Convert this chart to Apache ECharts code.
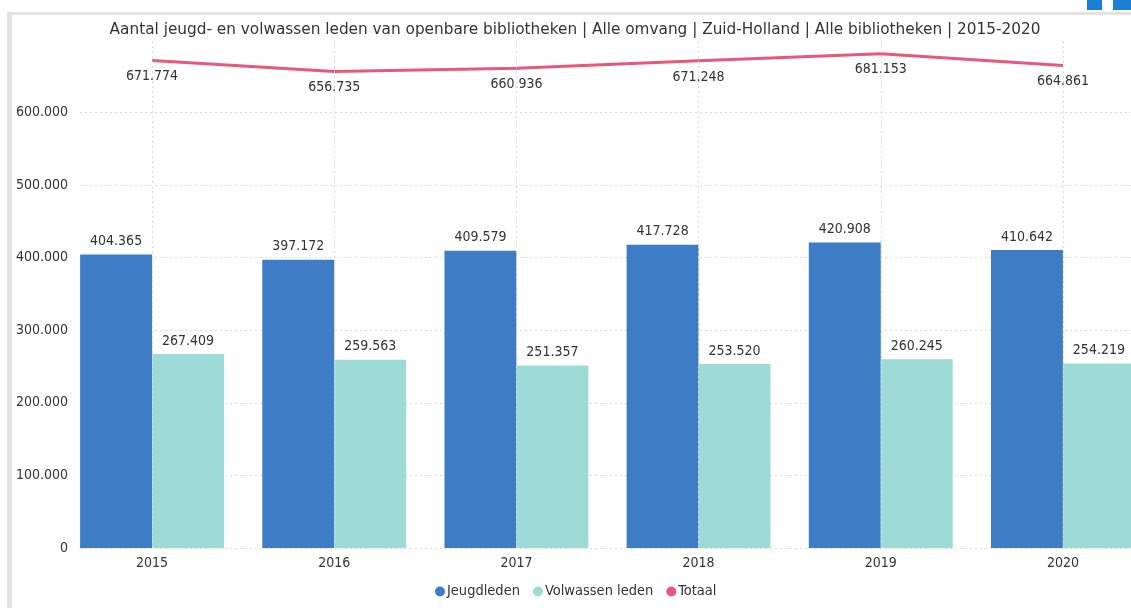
<!DOCTYPE html>
<html><head><meta charset="utf-8">
<script src="https://cdn.jsdelivr.net/npm/echarts@6/dist/echarts.min.js"></script>
<style>html,body{margin:0;padding:0;background:#fff;overflow:hidden;width:1131px;height:608px}#c{width:1160px;height:608px}</style>
</head><body><div id="c"></div>
<script>
var categories = ['2015','2016','2017','2018','2019','2020'];
var jeugdleden = [404365, 397172, 409579, 417728, 420908, 410642];
var volwassen = [267409, 259563, 251357, 253520, 260245, 254219];
var totaal = [671774, 656735, 660936, 671248, 681153, 664861];
var yTicks = [0, 100000, 200000, 300000, 400000, 500000, 600000];

var FONT = 'DejaVu Sans Condensed';
function fmt(v){ return String(v).replace(/\B(?=(\d{3})+(?!\d))/g, '.'); }

var chart = echarts.init(document.getElementById('c'));
var gridTop = 40, gridBottom = 60, yMax = 700000;
chart.setOption({
  animation: false,
  textStyle: {fontFamily: FONT},
  title: {
    text: 'Aantal jeugd- en volwassen leden van openbare bibliotheken | Alle omvang | Zuid-Holland | Alle bibliotheken | 2015-2020',
    left: 570, top: 18, textAlign: 'center',
    textStyle: {fontFamily: 'DejaVu Sans', fontSize: 15.3, fontWeight: 'normal', color: '#333'}
  },
  legend: {
    bottom: 4, left: 430, icon: 'circle', itemWidth: 10, itemHeight: 10, itemGap: 13,
    textStyle: {fontFamily: FONT, fontSize: 14.5, color: '#333', padding: [0,0,0,-3]},
    data: ['Jeugdleden','Volwassen leden','Totaal']
  },
  graphic: [
    {type:'rect', shape:{x:7,y:12,width:1153,height:3}, style:{fill:'#e3e3e3'}, silent:true},
    {type:'rect', shape:{x:7,y:12,width:5,height:596}, style:{fill:'#e3e3e3'}, silent:true},
    {type:'rect', shape:{x:1087,y:0,width:15,height:10}, style:{fill:'#1b7fd3'}, silent:true},
    {type:'rect', shape:{x:1113,y:0,width:18,height:10}, style:{fill:'#1b7fd3'}, silent:true}
  ],
  grid: [
    {left: 61, width: 1093, top: gridTop, bottom: gridBottom},
    {left: 80, width: 1051, top: gridTop, bottom: gridBottom}
  ],
  xAxis: [
    {type:'category', gridIndex:0, data: categories,
     axisLine:{show:false}, axisTick:{show:false},
     axisLabel:{fontFamily: FONT, fontSize: 14, color:'#333', margin: 8}},
    {type:'value', gridIndex:1, show:false, min:0, max:1}
  ],
  yAxis: [
    {type:'value', gridIndex:0, min:0, max:yMax, interval:100000, show:false, splitLine:{show:false}},
    {type:'value', gridIndex:1, min:0, max:yMax, interval:100000,
     axisLine:{show:false}, axisTick:{show:false},
     axisLabel:{fontFamily: FONT, fontSize: 14, color:'#333', margin: 12,
       formatter: function(v){ return v > 600000 ? '' : fmt(v); }},
     splitLine:{show:true, lineStyle:{type:[2,3], width:1,
       color:['#d9d9d9','#d9d9d9','#d9d9d9','#d9d9d9','#d9d9d9','#d9d9d9','#d9d9d9','rgba(0,0,0,0)']}}}
  ],
  series: [
    {name:'vlines', type:'line', xAxisIndex:0, yAxisIndex:0, data:[], z:0, silent:true,
     markLine:{silent:true, symbol:['none','none'], label:{show:false},
       lineStyle:{type:[2,3], color:'#d9d9d9', width:1},
       data: categories.map(function(c){ return {xAxis: c}; })}},
    {name:'Jeugdleden', type:'bar', xAxisIndex:0, yAxisIndex:0, data: jeugdleden,
     barGap:'0%', barCategoryGap:'21%', itemStyle:{color:'#3f7cc6'}, z:2,
     label:{show:true, position:'top', distance:6, fontFamily: FONT, fontSize:14, color:'#333', formatter:function(p){return fmt(p.value);}}},
    {name:'Volwassen leden', type:'bar', xAxisIndex:0, yAxisIndex:0, data: volwassen,
     itemStyle:{color:'#9edbd7'}, z:2,
     label:{show:true, position:'top', distance:6, fontFamily: FONT, fontSize:14, color:'#333', formatter:function(p){return fmt(p.value);}}},
    {name:'Totaal', type:'line', xAxisIndex:0, yAxisIndex:0, data: totaal, z:3,
     symbol:'circle', symbolSize:0, itemStyle:{color:'#e9587a'},
     lineStyle:{color:'#e9587a', width:3},
     label:{show:true, position:'bottom', distance:9, fontFamily: FONT, fontSize:14, color:'#333', formatter:function(p){return fmt(p.value);}}}
  ]
});
</script></body></html>
